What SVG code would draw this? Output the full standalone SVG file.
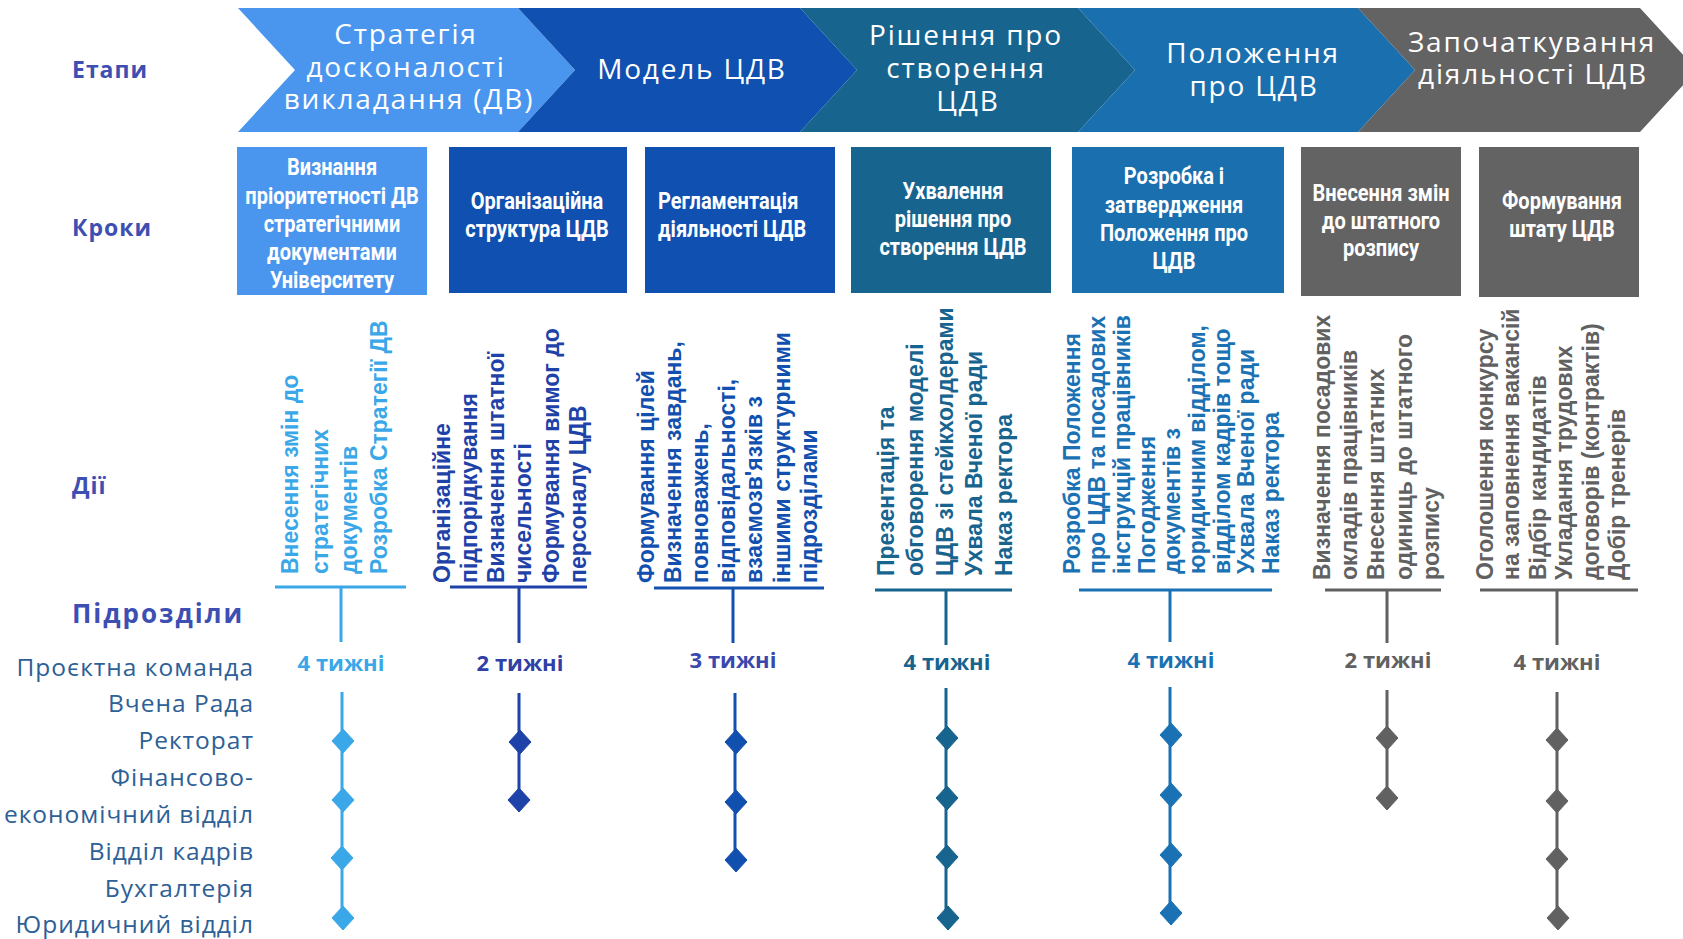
<svg xmlns="http://www.w3.org/2000/svg" xmlns:xlink="http://www.w3.org/1999/xlink" width="1683" height="939" viewBox="0 0 1683 939">
<style>
.ct{font-family:"Open Sans","Noto Sans",sans-serif;font-size:28px;fill:#fff;letter-spacing:1.8px;text-anchor:middle}
.lbl{font-family:"Open Sans","Noto Sans",sans-serif;font-weight:700;font-size:23px;fill:#3d4fb2;letter-spacing:1px}
.row{font-family:"Open Sans","Noto Sans",sans-serif;font-size:24.5px;fill:#2d6096;text-anchor:end;letter-spacing:1px}
.bt{font-family:Roboto,"Liberation Sans",sans-serif;font-weight:700;font-size:23px;fill:#fff;text-anchor:middle}
.btl{text-anchor:start}
.act{font-family:"Liberation Sans",Arial,sans-serif;font-weight:700;font-size:23px}
.wk{font-family:"Open Sans","Noto Sans",sans-serif;font-weight:700;font-size:22px;text-anchor:middle}
.ln{fill:none;stroke-width:3}
.c1{fill:#3aa8e8;stroke:#3aa8e8}
.c2{fill:#1e42a8;stroke:#1e42a8}
.c3{fill:#1250b0;stroke:#1250b0}
.c4{fill:#17648f;stroke:#17648f}
.c5{fill:#1a72b4;stroke:#1a72b4}
.c6{fill:#616161;stroke:#616161}
text.c1,text.c2,text.c3,text.c4,text.c5,text.c6{stroke:none}
</style>
<defs>
<path id="dia" d="M0,-12 L11,0 L0,12 L-11,0 Z"/>
</defs>

<!-- Row labels -->
<g id="labels">
<text class="lbl" x="72" y="78">Етапи</text>
<text class="lbl" x="72" y="236">Кроки</text>
<text class="lbl" x="72" y="494">Дії</text>
<text class="lbl" x="72" y="623" style="font-size:26px;letter-spacing:2px">Підрозділи</text>
<text class="row" x="254" y="676">Проєктна команда</text>
<text class="row" x="254" y="712">Вчена Рада</text>
<text class="row" x="254" y="749">Ректорат</text>
<text class="row" x="254" y="786">Фінансово-</text>
<text class="row" x="254" y="823">економічний відділ</text>
<text class="row" x="254" y="860">Відділ кадрів</text>
<text class="row" x="254" y="897">Бухгалтерія</text>
<text class="row" x="254" y="933">Юридичний відділ</text>
</g>

<!-- Stages (chevrons) -->
<g id="stage1">
<polygon points="238,8 518,8 575,70 518,132 238,132 295,70" fill="#4a96ee"/>
<text class="ct" x="406" y="44">Стратегія</text>
<text class="ct" x="406" y="76.5">досконалості</text>
<text class="ct" x="409" y="109">викладання (ДВ)</text>
</g>
<g id="stage2">
<polygon points="518,8 800,8 857,70 800,132 518,132 575,70" fill="#0f50b0"/>
<text class="ct" x="692" y="79">Модель ЦДВ</text>
</g>
<g id="stage3">
<polygon points="800,8 1078,8 1135,70 1078,132 800,132 857,70" fill="#17648f"/>
<text class="ct" x="966" y="45">Рішення про</text>
<text class="ct" x="966" y="78">створення</text>
<text class="ct" x="968" y="111">ЦДВ</text>
</g>
<g id="stage4">
<polygon points="1078,8 1358,8 1415,70 1358,132 1078,132 1135,70" fill="#1a6fae"/>
<text class="ct" x="1253" y="63">Положення</text>
<text class="ct" x="1254" y="96">про ЦДВ</text>
</g>
<g id="stage5">
<polygon points="1358,8 1640,8 1697,70 1640,132 1358,132 1415,70" fill="#636363"/>
<text class="ct" x="1532" y="52">Започаткування</text>
<text class="ct" x="1533" y="84">діяльності ЦДВ</text>
</g>

<!-- Steps (boxes) -->
<g id="step1">
<rect x="237" y="147" width="190" height="148" fill="#4a96ee"/>
<g transform="translate(332,0) scale(0.87,1)">
<text class="bt" x="0" y="175.5">Визнання</text>
<text class="bt" x="0" y="204">пріоритетності ДВ</text>
<text class="bt" x="0" y="232">стратегічними</text>
<text class="bt" x="0" y="260">документами</text>
<text class="bt" x="0" y="288">Університету</text>
</g>
</g>
<g id="step2">
<rect x="449" y="147" width="178" height="146" fill="#0f50b0"/>
<g transform="translate(537,0) scale(0.87,1)">
<text class="bt" x="0" y="209">Організаційна</text>
<text class="bt" x="0" y="237">структура ЦДВ</text>
</g>
</g>
<g id="step3">
<rect x="645" y="147" width="190" height="146" fill="#0f50b0"/>
<g transform="translate(658,0) scale(0.87,1)">
<text class="bt btl" x="0" y="209">Регламентація</text>
<text class="bt btl" x="0" y="237">діяльності ЦДВ</text>
</g>
</g>
<g id="step4">
<rect x="851" y="147" width="200" height="146" fill="#17648f"/>
<g transform="translate(953,0) scale(0.87,1)">
<text class="bt" x="0" y="199">Ухвалення</text>
<text class="bt" x="0" y="227">рішення про</text>
<text class="bt" x="0" y="255">створення ЦДВ</text>
</g>
</g>
<g id="step5">
<rect x="1072" y="147" width="212" height="146" fill="#1a6fae"/>
<g transform="translate(1174,0) scale(0.87,1)">
<text class="bt" x="0" y="184">Розробка і</text>
<text class="bt" x="0" y="213">затвердження</text>
<text class="bt" x="0" y="241">Положення про</text>
<text class="bt" x="0" y="269">ЦДВ</text>
</g>
</g>
<g id="step6">
<rect x="1301" y="147" width="160" height="149" fill="#636363"/>
<g transform="translate(1381,0) scale(0.87,1)">
<text class="bt" x="0" y="201">Внесення змін</text>
<text class="bt" x="0" y="229">до штатного</text>
<text class="bt" x="0" y="256">розпису</text>
</g>
</g>
<g id="step7">
<rect x="1479" y="147" width="160" height="150" fill="#636363"/>
<g transform="translate(1562,0) scale(0.87,1)">
<text class="bt" x="0" y="209">Формування</text>
<text class="bt" x="0" y="237">штату ЦДВ</text>
</g>
</g>

<!-- Actions -->
<g id="actions1" class="act">
<text class="c1" transform="translate(298,574) rotate(-90)">Внесення змін до</text>
<text class="c1" transform="translate(327.5,574) rotate(-90)">стратегічних</text>
<text class="c1" transform="translate(357,574) rotate(-90)">документів</text>
<text class="c1" transform="translate(386.5,574) rotate(-90)">Розробка Стратегії ДВ</text>
</g>
<g id="actions2" class="act">
<text class="c2" transform="translate(450,583) rotate(-90)">Організаційне</text>
<text class="c2" transform="translate(477,583) rotate(-90)">підпорідкування</text>
<text class="c2" transform="translate(504,583) rotate(-90)">Визначення штатної</text>
<text class="c2" transform="translate(531,583) rotate(-90)">чисельності</text>
<text class="c2" transform="translate(558.5,583) rotate(-90)">Формування вимог до</text>
<text class="c2" transform="translate(585.5,583) rotate(-90)">персоналу ЦДВ</text>
</g>
<g id="actions3" class="act">
<text class="c3" transform="translate(653.5,583) rotate(-90)">Формування цілей</text>
<text class="c3" transform="translate(680.7,583) rotate(-90)">Визначення завдань,</text>
<text class="c3" transform="translate(707.9,583) rotate(-90)">повноважень,</text>
<text class="c3" transform="translate(735.1,583) rotate(-90)">відповідальності,</text>
<text class="c3" transform="translate(762.3,583) rotate(-90)">взаємозв'язків з</text>
<text class="c3" transform="translate(789.5,583) rotate(-90)">іншими структурними</text>
<text class="c3" transform="translate(816.7,583) rotate(-90)">підрозділами</text>
</g>
<g id="actions4" class="act">
<text class="c4" transform="translate(893.5,576) rotate(-90)">Презентація та</text>
<text class="c4" transform="translate(923,576) rotate(-90)">обговорення моделі</text>
<text class="c4" transform="translate(952.5,576) rotate(-90)">ЦДВ зі стейкхолдерами</text>
<text class="c4" transform="translate(982,576) rotate(-90)">Ухвала Вченої ради</text>
<text class="c4" transform="translate(1011.5,576) rotate(-90)">Наказ ректора</text>
</g>
<g id="actions5" class="act">
<text class="c5" transform="translate(1080,574) rotate(-90)">Розробка Положення</text>
<text class="c5" transform="translate(1105,574) rotate(-90)">про ЦДВ та посадових</text>
<text class="c5" transform="translate(1130,574) rotate(-90)">інструкцій працівників</text>
<text class="c5" transform="translate(1155,574) rotate(-90)">Погодження</text>
<text class="c5" transform="translate(1180,574) rotate(-90)">документів з</text>
<text class="c5" transform="translate(1204.5,574) rotate(-90)">юридичним відділом,</text>
<text class="c5" transform="translate(1229.5,574) rotate(-90)">відділом кадрів тощо</text>
<text class="c5" transform="translate(1254,574) rotate(-90)">Ухвала Вченої ради</text>
<text class="c5" transform="translate(1279,574) rotate(-90)">Наказ ректора</text>
</g>
<g id="actions6" class="act">
<text class="c6" transform="translate(1330,580) rotate(-90)">Визначення посадових</text>
<text class="c6" transform="translate(1357.2,580) rotate(-90)">окладів працівників</text>
<text class="c6" transform="translate(1384.4,580) rotate(-90)">Внесення штатних</text>
<text class="c6" transform="translate(1411.6,580) rotate(-90)">одиниць до штатного</text>
<text class="c6" transform="translate(1438.8,580) rotate(-90)">розпису</text>
</g>
<g id="actions7" class="act">
<text class="c6" transform="translate(1492.5,580) rotate(-90)">Оголошення конкурсу</text>
<text class="c6" transform="translate(1519,580) rotate(-90)">на заповнення вакансій</text>
<text class="c6" transform="translate(1545.5,580) rotate(-90)">Відбір кандидатів</text>
<text class="c6" transform="translate(1572,580) rotate(-90)">Укладання трудових</text>
<text class="c6" transform="translate(1599,580) rotate(-90)">договорів (контрактів)</text>
<text class="c6" transform="translate(1624.5,580) rotate(-90)">Добір тренерів</text>
</g>

<!-- Durations -->
<g id="durations">
<text class="wk c1" x="341" y="671">4 тижні</text>
<text class="wk c2" x="520" y="671" style="fill:#2f40a6">2 тижні</text>
<text class="wk c3" x="733" y="668" style="fill:#3a48ae">3 тижні</text>
<text class="wk c4" x="947" y="670">4 тижні</text>
<text class="wk c5" x="1171" y="668">4 тижні</text>
<text class="wk c6" x="1388" y="668">2 тижні</text>
<text class="wk c6" x="1557" y="670">4 тижні</text>
</g>

<!-- Connectors -->
<g id="connectors">
<g class="c1"><path class="ln" d="M275,587 H406 M341,587 V642 M342,692 V918"/>
<use xlink:href="#dia" x="343" y="741"/><use xlink:href="#dia" x="343" y="800"/><use xlink:href="#dia" x="342" y="858"/><use xlink:href="#dia" x="343" y="918"/></g>
<g class="c2"><path class="ln" d="M450,587 H587 M519,587 V643 M519,693 V800"/>
<use xlink:href="#dia" x="520" y="742"/><use xlink:href="#dia" x="519" y="800"/></g>
<g class="c3"><path class="ln" d="M654,588 H824 M733,588 V643 M735,693 V860"/>
<use xlink:href="#dia" x="736" y="742"/><use xlink:href="#dia" x="736" y="802"/><use xlink:href="#dia" x="736" y="860"/></g>
<g class="c4"><path class="ln" d="M875,590 H1012 M946,590 V645 M946,688 V918"/>
<use xlink:href="#dia" x="947" y="738"/><use xlink:href="#dia" x="947" y="798"/><use xlink:href="#dia" x="947" y="857"/><use xlink:href="#dia" x="948" y="918"/></g>
<g class="c5"><path class="ln" d="M1079,590 H1272 M1170,590 V642 M1170,687 V913"/>
<use xlink:href="#dia" x="1171" y="735"/><use xlink:href="#dia" x="1171" y="795"/><use xlink:href="#dia" x="1171" y="855"/><use xlink:href="#dia" x="1171" y="913"/></g>
<g class="c6"><path class="ln" d="M1325,590 H1441 M1387,590 V643 M1387,690 V798"/>
<use xlink:href="#dia" x="1387" y="738"/><use xlink:href="#dia" x="1387" y="798"/></g>
<g class="c6"><path class="ln" d="M1480,590 H1638 M1557,590 V645 M1557,692 V918"/>
<use xlink:href="#dia" x="1557" y="740"/><use xlink:href="#dia" x="1557" y="801"/><use xlink:href="#dia" x="1557" y="859"/><use xlink:href="#dia" x="1558" y="918"/></g>
</g>
</svg>
